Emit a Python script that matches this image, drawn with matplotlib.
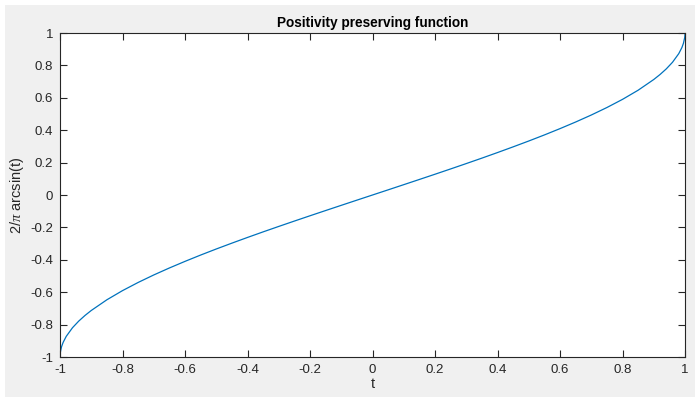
import matplotlib
matplotlib.use("Agg")
import matplotlib.pyplot as plt
from matplotlib.patches import Rectangle

# values
t = [-1.0, -0.9999, -0.9995, -0.999, -0.995, -0.99, -0.98, -0.96, -0.94, -0.92,
     -0.9, -0.85, -0.8, -0.75, -0.7, -0.65, -0.6, -0.55, -0.5, -0.45, -0.4,
     -0.35, -0.3, -0.25, -0.2, -0.15, -0.1, -0.05, 0.0,
     0.05, 0.1, 0.15, 0.2, 0.25, 0.3, 0.35, 0.4, 0.45, 0.5, 0.55, 0.6, 0.65,
     0.7, 0.75, 0.8, 0.85, 0.9, 0.92, 0.94, 0.96, 0.98, 0.99, 0.995, 0.999,
     0.9995, 0.9999, 1.0]
y = [-1.0, -0.991, -0.9799, -0.9715, -0.9363, -0.9099, -0.8725, -0.8193, -0.7783, -0.7436,
     -0.7129, -0.6468, -0.5903, -0.5399, -0.4936, -0.4505, -0.4097, -0.3707, -0.3333, -0.2972, -0.262,
     -0.2276, -0.194, -0.1609, -0.1282, -0.0959, -0.0638, -0.0318, 0.0,
     0.0318, 0.0638, 0.0959, 0.1282, 0.1609, 0.194, 0.2276, 0.262, 0.2972, 0.3333, 0.3707, 0.4097, 0.4505,
     0.4936, 0.5399, 0.5903, 0.6468, 0.7129, 0.7436, 0.7783, 0.8193, 0.8725, 0.9099, 0.9363, 0.9715,
     0.9799, 0.991, 1.0]
ticks = [-1, -0.8, -0.6, -0.4, -0.2, 0, 0.2, 0.4, 0.6, 0.8, 1]
tick_labels = ['-1', '-0.8', '-0.6', '-0.4', '-0.2', '0', '0.2', '0.4', '0.6', '0.8', '1']

plt.rcParams['font.family'] = ['Liberation Sans', 'DejaVu Sans']
plt.rcParams['mathtext.fontset'] = 'custom'
plt.rcParams['mathtext.it'] = 'Liberation Serif:italic'

dark = '#262626'
fig = plt.figure(figsize=(6.97, 3.97), dpi=100, facecolor='white')
fig.patches.append(Rectangle((5 / 697, 0), 690 / 697, 392 / 397, transform=fig.transFigure,
                             facecolor='#f0f0f0', edgecolor='none', zorder=-1))
ax = fig.add_axes([60 / 697, 40 / 397, 625 / 697, 324 / 397])
ax.plot(t, y, color='#0072BD', lw=0.9)
ax.set_xlim(-1, 1)
ax.set_ylim(-1, 1)
ax.set_xticks(ticks)
ax.set_xticklabels(tick_labels)
ax.set_yticks(ticks)
ax.set_yticklabels(tick_labels)
ax.tick_params(direction='in', length=5, width=0.8, colors=dark, labelsize=9.5,
               top=True, right=True, pad=5)
for s in ax.spines.values():
    s.set_color(dark)
    s.set_linewidth(0.8)
ax.set_title('Positivity preserving function', fontsize=9.8, fontweight='bold', color='black', pad=4)
ax.set_xlabel('t', fontsize=10.5, color=dark, labelpad=1)
ax.set_ylabel(r'2/$\pi$ arcsin(t)', fontsize=10.5, color=dark, labelpad=3)

fig.savefig('out.png', dpi=100, facecolor=fig.get_facecolor())
